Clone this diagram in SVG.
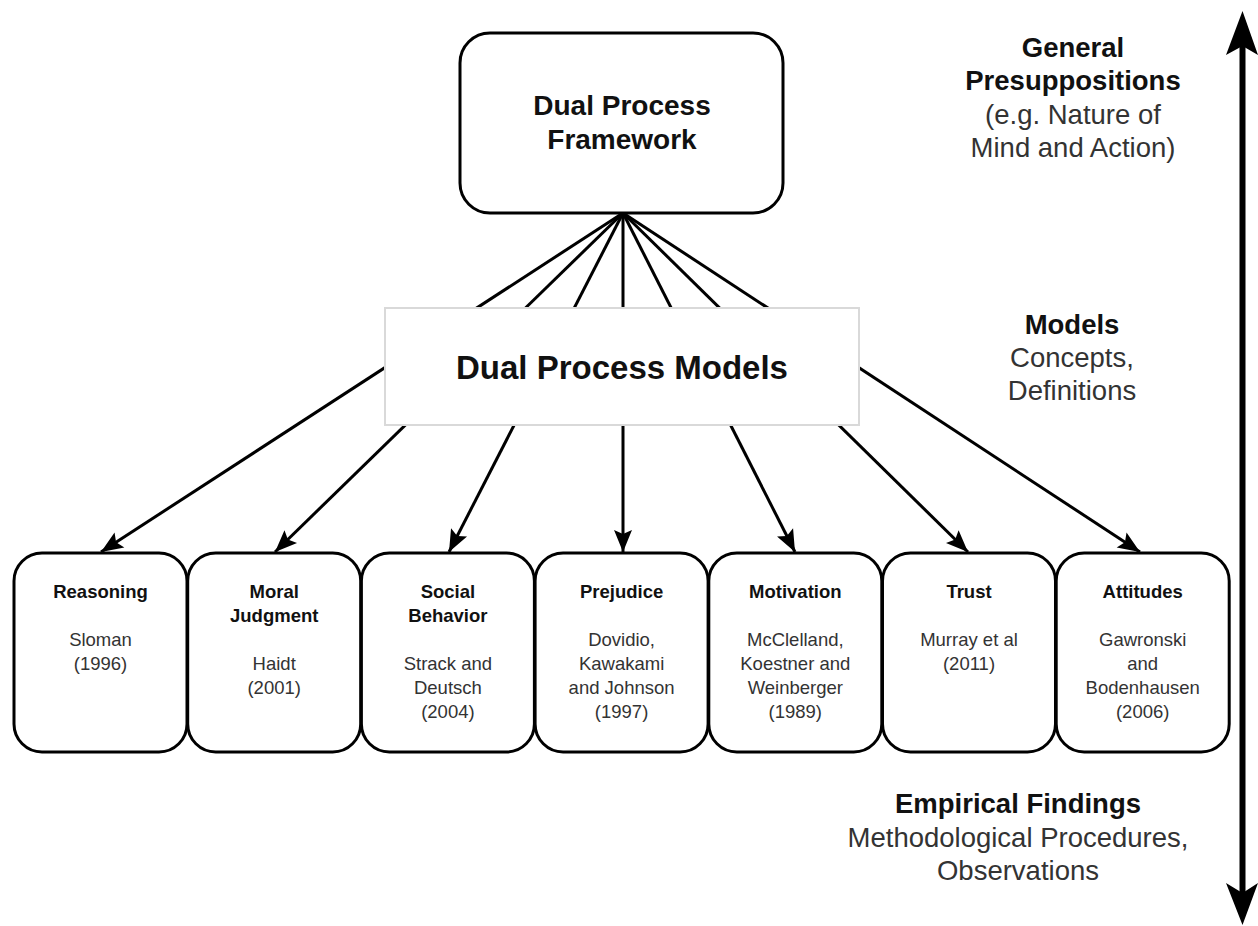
<svg xmlns="http://www.w3.org/2000/svg" width="1258" height="926" viewBox="0 0 1258 926">
  <style>
    text { font-family: "Liberation Sans", Arial, sans-serif; text-anchor: middle; }
    .b { font-weight: bold; fill: #111; }
    .r { fill: #333; }
    .node { fill: #fff; stroke: #000; stroke-width: 3; }
    .edge { stroke: #000; stroke-width: 3; fill: none; }
    .big { font-size: 28px; }
    .side { font-size: 27.5px; }
    .small { font-size: 18.5px; }
  </style>
  <defs>
    <marker id="head" markerUnits="userSpaceOnUse" markerWidth="24" markerHeight="20" viewBox="-24 -10 24 20" refX="0" refY="0" orient="auto">
      <path d="M0,0 L-22,-9 L-18,0 L-22,9 Z" fill="#000"/>
    </marker>
  </defs>

  <!-- connectors: framework fans out to each application area -->
  <g id="connectors">
    <line class="edge" x1="623" y1="213" x2="101" y2="552" marker-end="url(#head)"/>
    <line class="edge" x1="623" y1="213" x2="275" y2="552" marker-end="url(#head)"/>
    <line class="edge" x1="623" y1="213" x2="449" y2="552" marker-end="url(#head)"/>
    <line class="edge" x1="623" y1="213" x2="623" y2="552" marker-end="url(#head)"/>
    <line class="edge" x1="623" y1="213" x2="795" y2="552" marker-end="url(#head)"/>
    <line class="edge" x1="623" y1="213" x2="968" y2="552" marker-end="url(#head)"/>
    <line class="edge" x1="623" y1="213" x2="1140" y2="552" marker-end="url(#head)"/>
  </g>

  <g id="framework">
    <rect class="node" x="460" y="33" width="323" height="180" rx="30"/>
    <text class="b big" x="622" y="115">Dual Process</text>
    <text class="b big" x="622" y="149">Framework</text>
  </g>

  <g id="models">
    <rect x="385" y="308" width="474" height="117" fill="#fff" stroke="#d9d9d9" stroke-width="2"/>
    <text class="b" font-size="33" x="622" y="379">Dual Process Models</text>
  </g>

  <g id="reasoning">
    <rect class="node" x="14" y="553" width="173" height="199" rx="28"/>
    <text class="b small" x="100.5" y="598">Reasoning</text>
    <text class="r small" x="100.5" y="646">Sloman</text>
    <text class="r small" x="100.5" y="670">(1996)</text>
  </g>

  <g id="moral-judgment">
    <rect class="node" x="187.7" y="553" width="173" height="199" rx="28"/>
    <text class="b small" x="274.2" y="598">Moral</text>
    <text class="b small" x="274.2" y="622">Judgment</text>
    <text class="r small" x="274.2" y="670">Haidt</text>
    <text class="r small" x="274.2" y="694">(2001)</text>
  </g>

  <g id="social-behavior">
    <rect class="node" x="361.4" y="553" width="173" height="199" rx="28"/>
    <text class="b small" x="447.9" y="598">Social</text>
    <text class="b small" x="447.9" y="622">Behavior</text>
    <text class="r small" x="447.9" y="670">Strack and</text>
    <text class="r small" x="447.9" y="694">Deutsch</text>
    <text class="r small" x="447.9" y="718">(2004)</text>
  </g>

  <g id="prejudice">
    <rect class="node" x="535.1" y="553" width="173" height="199" rx="28"/>
    <text class="b small" x="621.6" y="598">Prejudice</text>
    <text class="r small" x="621.6" y="646">Dovidio,</text>
    <text class="r small" x="621.6" y="670">Kawakami</text>
    <text class="r small" x="621.6" y="694">and Johnson</text>
    <text class="r small" x="621.6" y="718">(1997)</text>
  </g>

  <g id="motivation">
    <rect class="node" x="708.8" y="553" width="173" height="199" rx="28"/>
    <text class="b small" x="795.3" y="598">Motivation</text>
    <text class="r small" x="795.3" y="646">McClelland,</text>
    <text class="r small" x="795.3" y="670">Koestner and</text>
    <text class="r small" x="795.3" y="694">Weinberger</text>
    <text class="r small" x="795.3" y="718">(1989)</text>
  </g>

  <g id="trust">
    <rect class="node" x="882.5" y="553" width="173" height="199" rx="28"/>
    <text class="b small" x="969" y="598">Trust</text>
    <text class="r small" x="969" y="646">Murray et al</text>
    <text class="r small" x="969" y="670">(2011)</text>
  </g>

  <g id="attitudes">
    <rect class="node" x="1056.2" y="553" width="173" height="199" rx="28"/>
    <text class="b small" x="1142.7" y="598">Attitudes</text>
    <text class="r small" x="1142.7" y="646">Gawronski</text>
    <text class="r small" x="1142.7" y="670">and</text>
    <text class="r small" x="1142.7" y="694">Bodenhausen</text>
    <text class="r small" x="1142.7" y="718">(2006)</text>
  </g>

  <!-- level scale on the right -->
  <g id="scale">
    <line x1="1242.5" y1="40" x2="1242.5" y2="900" stroke="#000" stroke-width="6"/>
    <path d="M1242.5,11 L1258,55 L1242.5,46 L1226,55 Z" fill="#000"/>
    <path d="M1242.5,925 L1258,883 L1242.5,893 L1226,883 Z" fill="#000"/>
  </g>

  <g id="level-presuppositions">
    <text class="b side" x="1073" y="57">General</text>
    <text class="b side" x="1073" y="90">Presuppositions</text>
    <text class="r side" x="1073" y="124">(e.g. Nature of</text>
    <text class="r side" x="1073" y="157">Mind and Action)</text>
  </g>

  <g id="level-models">
    <text class="b side" x="1072" y="334">Models</text>
    <text class="r side" x="1072" y="367">Concepts,</text>
    <text class="r side" x="1072" y="400">Definitions</text>
  </g>

  <g id="level-findings">
    <text class="b side" x="1018" y="813">Empirical Findings</text>
    <text class="r side" x="1018" y="847">Methodological Procedures,</text>
    <text class="r side" x="1018" y="880">Observations</text>
  </g>
</svg>
